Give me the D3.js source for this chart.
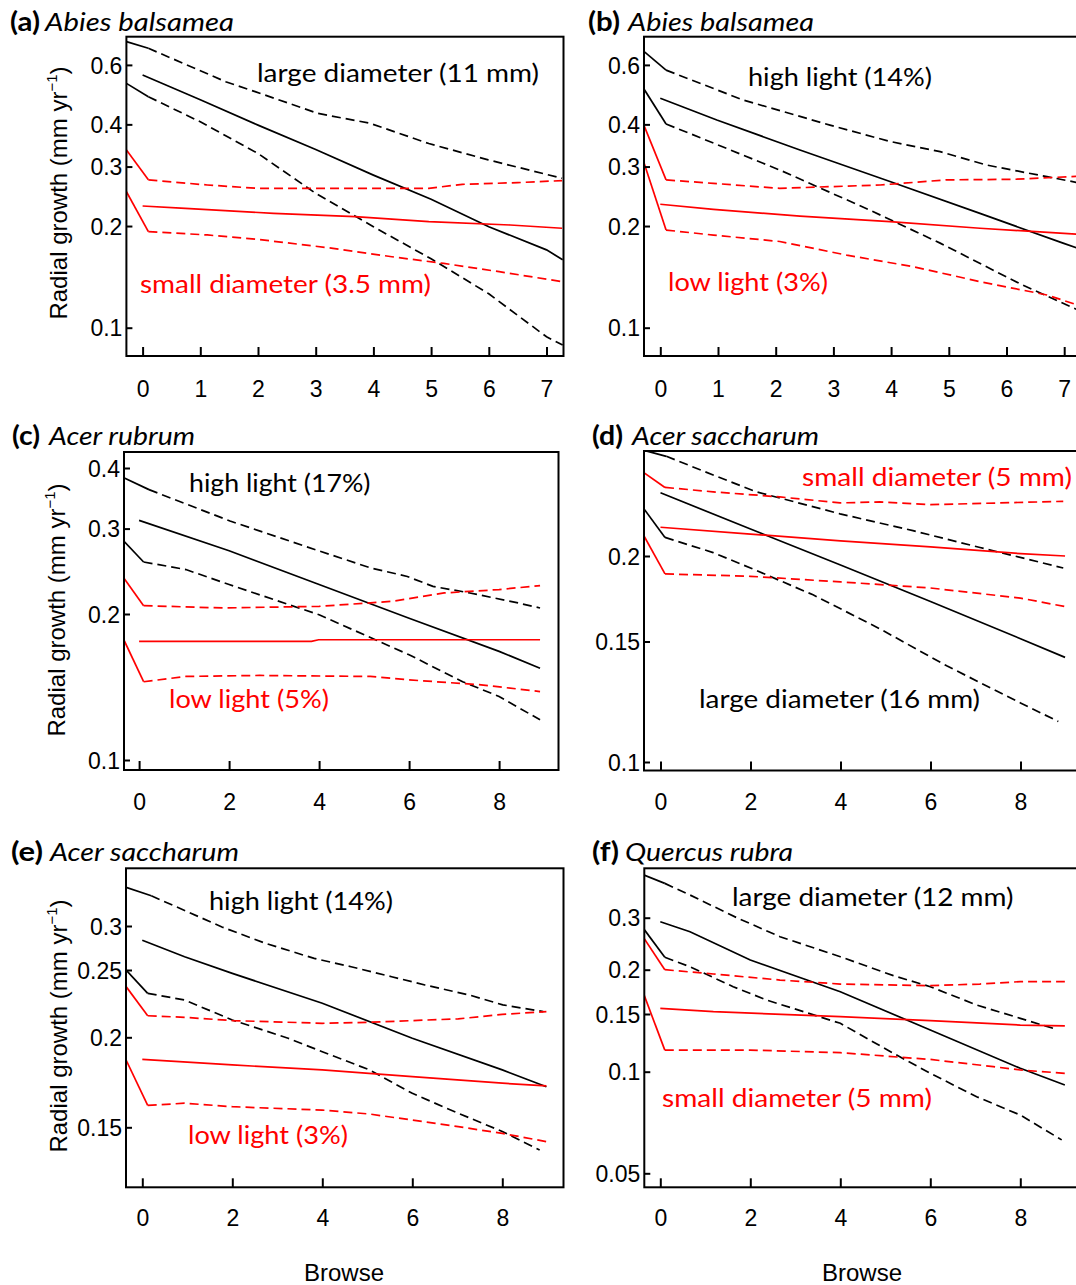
<!DOCTYPE html>
<html><head><meta charset="utf-8">
<script src="https://cdn.jsdelivr.net/npm/d3@7"></script>
<style>body{margin:0;background:#fff}svg{display:block}</style>
</head><body>
<svg id="chart" width="1076" height="1285"></svg>
<script>
// ---------------- DATA ----------------
// each series: [browse, radial growth (mm/yr)]
// (a) Abies balsamea - diameter
const aBlackUp   = [[-0.28,0.703],[0.1,0.672],[1.44,0.535],[1.95,0.500],[3.04,0.431],[3.94,0.403],[4.96,0.351],[5.99,0.314],[7.27,0.277]];
const aBlackMean = [[0,0.56],[1,0.473],[2,0.398],[3,0.337],[4,0.283],[5,0.240],[6,0.199],[7,0.170],[7.28,0.159]];
const aBlackLo   = [[-0.28,0.529],[0.1,0.483],[1,0.407],[2,0.328],[3,0.250],[4,0.199],[5,0.160],[6,0.126],[7,0.094],[7.28,0.0889]];
const aRedUp     = [[-0.28,0.336],[0.1,0.274],[1.12,0.2646],[2,0.2586],[3,0.2586],[4,0.2586],[4.96,0.2586],[5.54,0.2658],[6.5,0.2689],[7.27,0.2726]];
const aRedMean   = [[0,0.2293],[0.74,0.2256],[2.27,0.2181],[3.68,0.2132],[4.96,0.206],[6.37,0.2014],[7.27,0.197]];
const aRedLo     = [[-0.28,0.2528],[0.1,0.1925],[1.12,0.1882],[2,0.1826],[3.3,0.1718],[4.32,0.1622],[5.22,0.155],[6.18,0.1465],[7.27,0.1369]];
// (b) Abies balsamea - light
const bBlackUp   = [[-0.28,0.657],[0.1,0.579],[1.44,0.472],[2.94,0.398],[3.98,0.356],[4.85,0.332],[5.66,0.303],[6.7,0.280],[7.28,0.268]];
const bBlackMean = [[0,0.478],[0.98,0.412],[2.42,0.336],[3.98,0.271],[5.54,0.218],[6.98,0.178],[7.28,0.171]];
const bBlackLo   = [[-0.28,0.508],[0.1,0.401],[0.51,0.376],[2.07,0.293],[3.63,0.223],[4.85,0.178],[6.23,0.135],[7.28,0.112]];
const bRedUp     = [[-0.28,0.396],[0.1,0.274],[0.92,0.2675],[2.07,0.2586],[3.81,0.2646],[4.96,0.274],[6.12,0.275],[7.28,0.281]];
const bRedMean   = [[0,0.232],[0.92,0.224],[2.42,0.214],[3.98,0.206],[5.54,0.197],[7.28,0.189]];
const bRedLo     = [[-0.28,0.3067],[0.1,0.1946],[0.92,0.188],[2.07,0.180],[3.23,0.164],[4.38,0.1516],[5.54,0.1369],[6.7,0.125],[7.28,0.116]];
// (c) Acer rubrum - light
const cBlackUp   = [[-0.34,0.382],[0.22,0.361],[2.02,0.311],[3.99,0.270],[5.14,0.249],[5.96,0.239],[6.53,0.228],[7.35,0.221],[8.42,0.2108],[8.91,0.2058]];
const cBlackMean = [[0,0.312],[2,0.270],[4,0.230],[6,0.196],[8,0.1675],[8.91,0.1546]];
const cBlackLo   = [[-0.34,0.2827],[0.1,0.256],[1.04,0.247],[2,0.230],[4,0.1993],[6,0.1648],[7.19,0.145],[8,0.1352],[8.91,0.121]];
const cRedUp     = [[-0.34,0.2373],[0.1,0.2081],[1.86,0.2058],[4,0.2074],[5.63,0.2124],[6.78,0.221],[8,0.2246],[8.91,0.2289]];
const cRedMean   = [[0,0.1756],[3.83,0.1756],[3.99,0.177],[8.91,0.177]];
const cRedLo     = [[-0.34,0.177],[0.1,0.145],[1.04,0.1487],[2.68,0.1494],[5.14,0.1487],[6,0.1463],[7.6,0.1429],[8.91,0.1384]];
// (d) Acer saccharum - diameter
const dBlackUp   = [[-0.37,0.2855],[0.13,0.2797],[1.17,0.2627],[2.13,0.2482],[3.99,0.2305],[5.61,0.2178],[7.1,0.2058],[8.95,0.1921]];
const dBlackMean = [[0,0.2474],[2,0.219],[4,0.194],[6,0.1716],[8,0.1514],[8.99,0.1422]];
const dBlackLo   = [[-0.37,0.2345],[0.1,0.2129],[1.17,0.2023],[2,0.1921],[3.39,0.1755],[4.87,0.1566],[6.36,0.1382],[8,0.122],[8.84,0.1146]];
const dRedUp     = [[-0.37,0.2648],[0.1,0.2519],[1.17,0.2482],[2.65,0.244],[3.99,0.2391],[4.87,0.2399],[6,0.2377],[8.95,0.2404]];
const dRedMean   = [[0,0.2203],[2,0.2153],[4,0.2105],[6,0.2062],[8,0.2016],[8.99,0.2]];
const dRedLo     = [[-0.37,0.2141],[0.1,0.1883],[2,0.1868],[4,0.1833],[6,0.1796],[8,0.1736],[8.99,0.1687]];
// (e) Acer saccharum - light
const eBlackUp   = [[-0.36,0.352],[0.2,0.340],[1.77,0.2988],[2.75,0.279],[3.82,0.2623],[4.64,0.2534],[5.54,0.2445],[6.28,0.2379],[7.27,0.2301],[8.01,0.2227],[8.91,0.2178]];
const eBlackMean = [[0,0.2828],[0.94,0.2641],[2,0.2472],[4,0.2239],[6,0.1994],[8,0.1802],[8.98,0.1708]];
const eBlackLo   = [[-0.36,0.25],[0.12,0.2314],[0.94,0.2263],[2,0.2118],[3.24,0.1994],[4,0.191],[5.05,0.1802],[6,0.1672],[7.02,0.1569],[8,0.148],[8.83,0.1395]];
const eRedUp     = [[-0.36,0.2366],[0.12,0.2148],[0.94,0.2137],[2,0.2114],[4,0.2095],[5.05,0.2102],[6,0.2114],[7.02,0.2126],[8,0.2158],[8.98,0.2178]];
const eRedMean   = [[0,0.1864],[2,0.1831],[4,0.1802],[6,0.1764],[8,0.1727],[8.98,0.1712]];
const eRedLo     = [[-0.36,0.186],[0.12,0.1609],[0.94,0.162],[2,0.1602],[4,0.1585],[5.05,0.1565],[6,0.1535],[7.02,0.1503],[8,0.1471],[8.98,0.1433]];
// (f) Quercus rubra - diameter
const fBlackUp   = [[-0.36,0.418],[0.1,0.392],[0.66,0.358],[1.7,0.300],[2.66,0.2587],[4,0.2213],[5.18,0.1924],[6,0.1791],[7.03,0.159],[8,0.1455],[8.73,0.1356]];
const fBlackMean = [[0,0.2908],[0.66,0.269],[2,0.2157],[4,0.1734],[6,0.134],[8,0.1024],[8.99,0.0913]];
const fBlackLo   = [[-0.36,0.2739],[0.1,0.2203],[0.66,0.2047],[1.62,0.1791],[2.36,0.1643],[4,0.1405],[5.18,0.1138],[6,0.0989],[7.03,0.0843],[8,0.0744],[8.92,0.0628]];
const fRedUp     = [[-0.36,0.2553],[0.1,0.2],[1.18,0.1945],[2.66,0.187],[4,0.1822],[6,0.1803],[7.1,0.1822],[8,0.1851],[8.99,0.1851]];
const fRedMean   = [[0,0.1556],[1.18,0.1523],[4,0.1472],[6,0.1431],[8,0.1388],[8.99,0.1379]];
const fRedLo     = [[-0.36,0.1697],[0.1,0.1164],[2,0.1164],[4,0.1143],[6,0.109],[7.4,0.1036],[8,0.1012],[8.99,0.0989]];

// tick values / labels
const xTicks7 = [0,1,2,3,4,5,6,7];
const xTicks8 = [0,2,4,6,8];
const yTicksAB = [0.1,0.2,0.3,0.4,0.6];
const yTicksC  = [0.1,0.2,0.3,0.4];
const yTicksD  = [0.1,0.15,0.2];
const yTicksE  = [0.15,0.2,0.25,0.3];
const yTicksF  = [0.05,0.1,0.15,0.2,0.3];

const panelLetters = ["(a)","(b)","(c)","(d)","(e)","(f)"];
const species = ["Abies balsamea","Abies balsamea","Acer rubrum","Acer saccharum","Acer saccharum","Quercus rubra"];
const blackLabels = ["large diameter (11 mm)","high light (14%)","high light (17%)","large diameter (16 mm)","high light (14%)","large diameter (12 mm)"];
const redLabels = ["small diameter (3.5 mm)","low light (3%)","low light (5%)","small diameter (5 mm)","low light (3%)","small diameter (5 mm)"];
const yTitle = "Radial growth (mm yr";
const xTitle = "Browse";

// ---------------- LAYOUT ----------------
// title: [x letter, baseline, letter width, x species, species width]
const layout = [
 {L:126.4,R:563.5,T:36.7,B:356,x0:142.6,xu:57.7,yv:[0.1,0.6],yp:[327.7,64.9],xt:xTicks7,yt:yTicksAB,xlb:396.5,
  title:[10,30.5,30,45,189],bl:[257,81.5,282],rl:[140,292.5,291]},
 {L:644,R:1080,T:36.7,B:356,x0:660.3,xu:57.7,yv:[0.1,0.6],yp:[327.7,64.9],xt:xTicks7,yt:yTicksAB,xlb:396.5,
  title:[588,30.5,32,628,186],bl:[748,86,184],rl:[668,290.5,160]},
 {L:124,R:558.5,T:452,B:770,x0:139.1,xu:45,yv:[0.1,0.4],yp:[760,468],xt:xTicks8,yt:yTicksC,xlb:810,
  title:[12,445,28,49,146],bl:[189,491.5,181.5],rl:[169,708,160]},
 {L:644,R:1080,T:451,B:770.5,x0:660.5,xu:45,yv:[0.1,0.2],yp:[762,556],xt:xTicks8,yt:yTicksD,xlb:810,
  title:[592,445,31,632,187],bl:[699,708,281],rl:[802,486,270]},
 {L:126,R:563.5,T:868.3,B:1187.3,x0:142.3,xu:45,yv:[0.15,0.2,0.25,0.3],yp:[1127.3,1037.3,970,926],xt:xTicks8,yt:yTicksE,xlb:1226.5,
  title:[11,861,32,50,189],bl:[209,910,184],rl:[188,1144,160]},
 {L:644.3,R:1080,T:868.3,B:1187.3,x0:660.3,xu:45,yv:[0.05,0.1,0.15,0.2,0.3],yp:[1173.3,1071.7,1014,969.7,917.7],xt:xTicks8,yt:yTicksF,xlb:1226.5,
  title:[592,861,27,625,168],bl:[732,906,281.5],rl:[662,1107.3,270]}
];
const seriesSets = [
 [aBlackUp,aBlackMean,aBlackLo,aRedUp,aRedMean,aRedLo],
 [bBlackUp,bBlackMean,bBlackLo,bRedUp,bRedMean,bRedLo],
 [cBlackUp,cBlackMean,cBlackLo,cRedUp,cRedMean,cRedLo],
 [dBlackUp,dBlackMean,dBlackLo,dRedUp,dRedMean,dRedLo],
 [eBlackUp,eBlackMean,eBlackLo,eRedUp,eRedMean,eRedLo],
 [fBlackUp,fBlackMean,fBlackLo,fRedUp,fRedMean,fRedLo]
];
const yLabelPos = [[66.5,193],[65,610],[66.5,1026]];
const xLabelPos = [[344,1281],[862,1281]];

const RED = "#ff0000";
const TICKFONT = "'Liberation Sans', Arial, sans-serif";
const TEXTFONT = "Lato, 'Open Sans', sans-serif";

const svg = d3.select("#chart");
const defs = svg.append("defs");

layout.forEach((p, i) => {
  const x = d3.scaleLinear().domain([(p.L - p.x0)/p.xu, (p.R - p.x0)/p.xu]).range([p.L, p.R]);
  const y = d3.scaleLog().domain(p.yv).range(p.yp);
  const g = svg.append("g");

  defs.append("clipPath").attr("id","clip"+i)
    .append("rect").attr("x",p.L).attr("y",p.T).attr("width",p.R-p.L).attr("height",p.B-p.T);

  const line = d3.line().x(d => x(d[0])).y(d => y(d[1]));
  const lg = g.append("g").attr("clip-path","url(#clip"+i+")");
  const sets = seriesSets[i];
  sets.forEach((s, k) => {
    const col = k < 3 ? "#000" : RED;
    const dashed = (k % 3) !== 1;
    if (dashed) {
      lg.append("path").attr("d", line(s.slice(0,2))).attr("fill","none")
        .attr("stroke",col).attr("stroke-width",1.7);
      lg.append("path").attr("d", line(s.slice(1))).attr("fill","none")
        .attr("stroke",col).attr("stroke-width",1.7).attr("stroke-dasharray","9,5");
    } else {
      lg.append("path").attr("d", line(s)).attr("fill","none")
        .attr("stroke",col).attr("stroke-width",1.7);
    }
  });

  // frame
  g.append("rect").attr("x",p.L).attr("y",p.T).attr("width",p.R-p.L).attr("height",p.B-p.T)
    .attr("fill","none").attr("stroke","#000").attr("stroke-width",2);

  // x ticks (inward) and labels
  const xAxis = d3.axisBottom(x).tickValues(p.xt).tickSizeInner(-9).tickSizeOuter(0).tickFormat(d3.format("d"));
  const xa = g.append("g").attr("transform",`translate(0,${p.B})`).call(xAxis);
  xa.select(".domain").remove();
  xa.selectAll(".tick line").attr("stroke","#000").attr("stroke-width",2);
  xa.selectAll(".tick text").attr("y", p.xlb - p.B).attr("dy",0)
    .attr("font-family",TICKFONT).attr("font-size",23).attr("fill","#000");

  // y ticks (inward) and labels
  const yAxis = d3.axisLeft(y).tickValues(p.yt).tickSizeInner(-6).tickSizeOuter(0).tickFormat(d => String(d));
  const ya = g.append("g").attr("transform",`translate(${p.L},0)`).call(yAxis);
  ya.select(".domain").remove();
  ya.selectAll(".tick line").attr("stroke","#000").attr("stroke-width",2);
  ya.selectAll(".tick text").attr("x",-4).attr("dy","0.36em")
    .attr("font-family",TICKFONT).attr("font-size",23).attr("fill","#000");

  // title
  svg.append("text").attr("x",p.title[0]).attr("y",p.title[1])
    .attr("textLength",p.title[2]).attr("lengthAdjust","spacingAndGlyphs")
    .attr("font-family",TEXTFONT).attr("font-size",26).attr("font-weight","bold").attr("fill","#000")
    .text(panelLetters[i]);
  svg.append("text").attr("x",p.title[3]).attr("y",p.title[1])
    .attr("textLength",p.title[4]).attr("lengthAdjust","spacingAndGlyphs")
    .attr("font-family",TEXTFONT).attr("font-size",26).attr("font-style","italic").attr("fill","#000")
    .text(species[i]);

  // annotations
  svg.append("text").attr("x",p.bl[0]).attr("y",p.bl[1]).attr("textLength",p.bl[2]).attr("lengthAdjust","spacingAndGlyphs")
    .attr("font-family",TEXTFONT).attr("font-size",25).attr("fill","#000").text(blackLabels[i]);
  svg.append("text").attr("x",p.rl[0]).attr("y",p.rl[1]).attr("textLength",p.rl[2]).attr("lengthAdjust","spacingAndGlyphs")
    .attr("font-family",TEXTFONT).attr("font-size",25).attr("fill",RED).text(redLabels[i]);
});

// y axis titles
yLabelPos.forEach(pos => {
  const t = svg.append("text").attr("transform",`translate(${pos[0]},${pos[1]}) rotate(-90)`)
    .attr("text-anchor","middle").attr("font-family",TICKFONT).attr("font-size",24).attr("fill","#000");
  t.append("tspan").text(yTitle);
  t.append("tspan").attr("font-size",15).attr("dy",-10).text("\u22121");
  t.append("tspan").attr("dy",10).text(")");
});
// x axis titles
xLabelPos.forEach(pos => {
  svg.append("text").attr("x",pos[0]).attr("y",pos[1]).attr("text-anchor","middle")
    .attr("font-family",TICKFONT).attr("font-size",24).attr("fill","#000").text(xTitle);
});
</script>
</body></html>
